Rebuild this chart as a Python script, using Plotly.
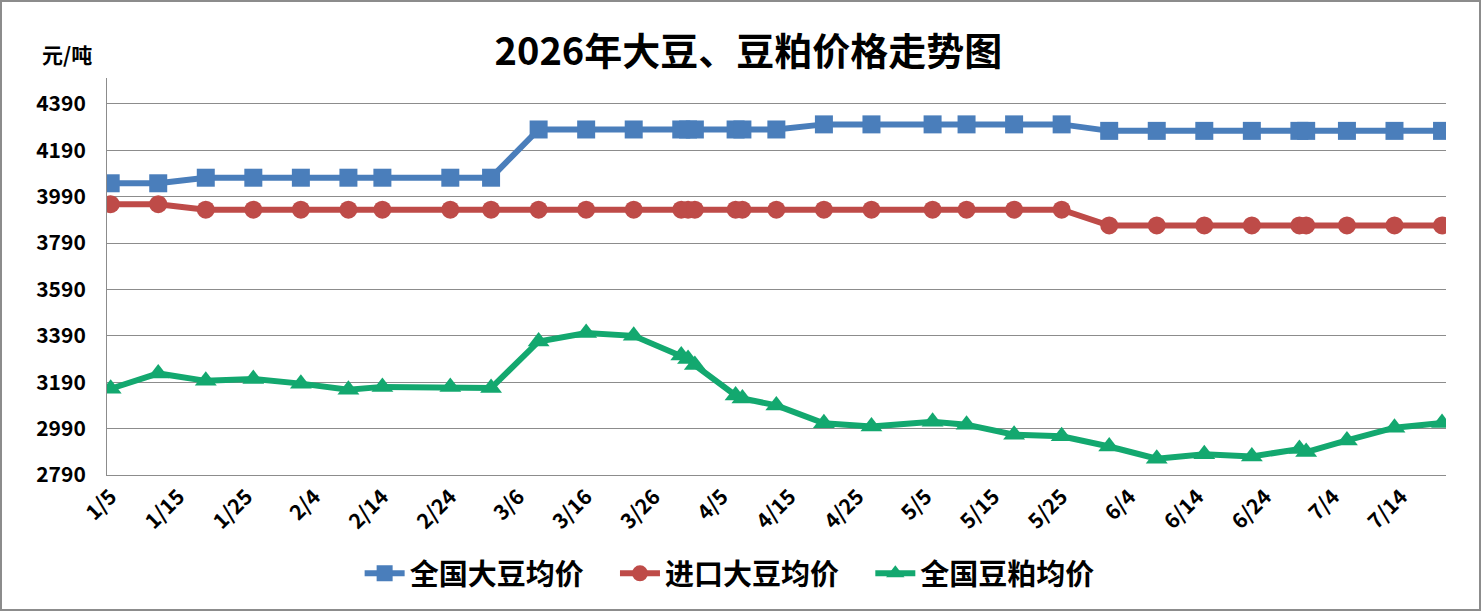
import plotly.graph_objects as go

# --- data ---
dates = [
    "2026-01-05", "2026-01-12", "2026-01-19", "2026-01-26", "2026-02-02",
    "2026-02-09", "2026-02-14", "2026-02-24", "2026-03-02", "2026-03-09",
    "2026-03-16", "2026-03-23", "2026-03-30", "2026-03-31", "2026-04-01",
    "2026-04-07", "2026-04-08", "2026-04-13", "2026-04-20", "2026-04-27",
    "2026-05-06", "2026-05-11", "2026-05-18", "2026-05-25", "2026-06-01",
    "2026-06-08", "2026-06-15", "2026-06-22", "2026-06-29", "2026-06-30",
    "2026-07-06", "2026-07-13", "2026-07-20",
]

soy_national = [
    4048, 4048, 4072, 4072, 4072, 4072, 4072, 4072, 4072, 4280,
    4280, 4280, 4280, 4280, 4280, 4280, 4280, 4280, 4302, 4302,
    4302, 4302, 4302, 4302, 4274, 4274, 4274, 4274, 4274, 4274,
    4274, 4274, 4274,
]

soy_import = [
    3958, 3958, 3934, 3934, 3934, 3934, 3934, 3934, 3934, 3934,
    3934, 3934, 3934, 3934, 3934, 3934, 3934, 3934, 3934, 3934,
    3934, 3934, 3934, 3934, 3866, 3866, 3866, 3866, 3866, 3866,
    3866, 3866, 3866,
]

meal_national = [
    3162, 3228, 3196, 3204, 3184, 3158, 3170, 3170, 3165, 3366,
    3402, 3390, 3305, 3290, 3264, 3133, 3120, 3090, 3013, 2999,
    3020, 3007, 2964, 2957, 2913, 2860, 2879, 2870, 2902, 2889,
    2939, 2994, 3014,
]

tick_dates = [
    "2026-01-05", "2026-01-15", "2026-01-25", "2026-02-04", "2026-02-14",
    "2026-02-24", "2026-03-06", "2026-03-16", "2026-03-26", "2026-04-05",
    "2026-04-15", "2026-04-25", "2026-05-05", "2026-05-15", "2026-05-25",
    "2026-06-04", "2026-06-14", "2026-06-24", "2026-07-04", "2026-07-14",
]
tick_labels = [
    "1/5", "1/15", "1/25", "2/4", "2/14", "2/24", "3/6", "3/16", "3/26", "4/5",
    "4/15", "4/25", "5/5", "5/15", "5/25", "6/4", "6/14", "6/24", "7/4", "7/14",
]

y_ticks = [2790, 2990, 3190, 3390, 3590, 3790, 3990, 4190, 4390]

series = [
    ("全国大豆均价", soy_national, "#4A7EBB", "square"),
    ("进口大豆均价", soy_import, "#BE4B48", "circle"),
    ("全国豆粕均价", meal_national, "#13A86F", "triangle-up"),
]

FONT = "Noto Sans CJK SC"
W, H = 1482, 612
L, R, T, B = 107, 36, 78, 137

fig = go.Figure()
for i, (name, vals, color, symbol) in enumerate(series):
    pad = "\u00a0" * 4 if i < len(series) - 1 else ""
    fig.add_trace(go.Scatter(
        x=dates, y=vals, name=name + pad, mode="lines+markers",
        line=dict(color=color, width=6),
        marker=dict(symbol=symbol, size=18 if symbol != "triangle-up" else 19,
                    color=color, line=dict(width=0)),
    ))

# chart border (whole canvas)
pw, ph = W - L - R, H - T - B
fig.add_shape(type="rect", xref="paper", yref="paper",
              x0=-(L - 1) / pw, x1=1 + (R - 2) / pw,
              y0=-(B - 2) / ph, y1=1 + (T - 1) / ph,
              line=dict(color="#8C8C8C", width=2), fillcolor="rgba(0,0,0,0)")

fig.update_layout(
    width=W, height=H,
    margin=dict(l=L, r=R, t=T, b=B, autoexpand=False),
    paper_bgcolor="white", plot_bgcolor="white",
    font=dict(family=FONT, color="black"),
    title=dict(text="2026年大豆、豆粕价格走势图", x=0.505, xanchor="center",
               xref="container", y=0.915, yanchor="middle",
               font=dict(family=FONT, size=38, weight="bold", color="black")),
    showlegend=True,
    legend=dict(orientation="h", x=0.465, xanchor="center", y=-0.248, yanchor="middle",
                font=dict(family=FONT, size=29, weight="bold"),
                itemwidth=40, tracegroupgap=0),
    annotations=[dict(text="元/吨", xref="paper", yref="paper",
                      x=-(L - 40) / pw, xanchor="left", y=1 + 24 / ph, yanchor="middle",
                      showarrow=False, font=dict(family=FONT, size=21, weight="bold"))],
)

fig.update_xaxes(
    type="date", range=["2026-01-04 11:00", "2026-07-20 14:00"],
    tickmode="array", tickvals=tick_dates, ticktext=tick_labels,
    tickangle=-45, showgrid=False, showline=True, linecolor="#8C8C8C", linewidth=1,
    ticks="", tickfont=dict(family=FONT, size=21, weight="bold"),
    zeroline=False, automargin=False,
)
fig.update_yaxes(
    range=[2790, 4502], tickmode="array", tickvals=y_ticks,
    showgrid=True, gridcolor="#8C8C8C", gridwidth=1,
    showline=True, linecolor="#8C8C8C", linewidth=1, ticks="",
    ticklabelstandoff=16, automargin=False,
    tickfont=dict(family=FONT, size=21, weight="bold"), zeroline=False,
)

# drop the default page margin so the figure fills the window
fig.write_html("out.html", config={"displayModeBar": False},
               post_script="document.body.style.margin='0';")
